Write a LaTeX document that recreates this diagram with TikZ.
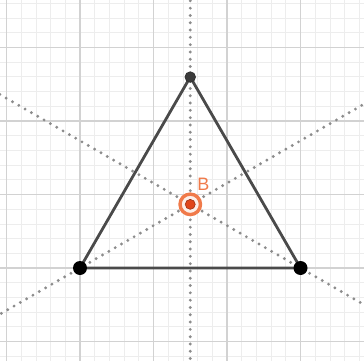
\documentclass[tikz,border=0pt]{standalone}
\usepackage{fontspec}
\setsansfont{Liberation Sans}
\usetikzlibrary{calc}
\definecolor{minorc}{HTML}{EDEDED}
\definecolor{majorc}{HTML}{D2D2D2}
\definecolor{medc}{HTML}{8C8C8C}
\definecolor{sidec}{HTML}{4A4A4A}
\definecolor{ringc}{HTML}{F07A4A}
\definecolor{bfill}{HTML}{E0461A}
\tikzset{
  minorline/.style={draw=minorc, line width=0.8pt},
  majorline/.style={draw=majorc, line width=1.4pt},
  median/.style={draw=medc, line width=3.2pt, line cap=round, dash pattern=on 0pt off 7.3pt},
  side/.style={draw=sidec, line width=2.8pt, line join=round},
  bigpt/.style={circle, fill=black, inner sep=0pt, minimum size=14pt},
  toppt/.style={circle, fill=sidec!80!black, draw=black!80, line width=0.8pt, inner sep=0pt, minimum size=10.5pt},
  ringpt/.style={circle, draw=ringc, fill=ringc!12, line width=3.4pt, inner sep=0pt, minimum size=20.5pt},
  bpt/.style={circle, fill=bfill, draw=bfill!70!black, line width=0.6pt, inner sep=0pt, minimum size=10pt},
  blabel/.style={text=ringc, font=\sffamily\fontsize{18}{18}\selectfont, inner sep=0pt}
}
\begin{document}
\begin{tikzpicture}[x=1pt,y=-1pt]
\useasboundingbox (0,0) rectangle (364,361);
\fill[white] (0,0) rectangle (364,361);
\begin{scope}
\clip (0,0) rectangle (364,361);
\foreach \i in {0,...,24} {
  \draw[minorline] ({6.5+14.7*\i},0) -- ({6.5+14.7*\i},361);
  \draw[minorline] (0,{3.4+14.7*\i}) -- (364,{3.4+14.7*\i});
}
\foreach \k in {0,...,4} {
  \draw[majorline] ({6.5+73.5*\k},0) -- ({6.5+73.5*\k},361);
  \draw[majorline] (0,{47.5+73.5*\k}) -- (364,{47.5+73.5*\k});
}
\coordinate (A) at (80,268);
\coordinate (C) at (300.5,268);
\coordinate (T) at (190.25,77.05);
\coordinate (G) at (190.25,204.35);
\draw[median] ($(A)!-1!(G)$) -- ($(A)!4!(G)$);
\draw[median] ($(C)!-1!(G)$) -- ($(C)!4!(G)$);
\draw[median] ($(T)!-1!(G)$) -- ($(T)!3!(G)$);
\end{scope}
\draw[side] (A) -- (T) -- (C) -- cycle;
\node[bigpt] (Apt) at (A) {};
\node[bigpt] (Cpt) at (C) {};
\node[toppt] (Tpt) at (T) {};
\node[ringpt] (Bring) at (G) {};
\node[bpt] (Bpt) at (G) {};
\node[blabel, anchor=center] (Blab) at (203.5,184.5) {B};
\end{tikzpicture}
\end{document}
